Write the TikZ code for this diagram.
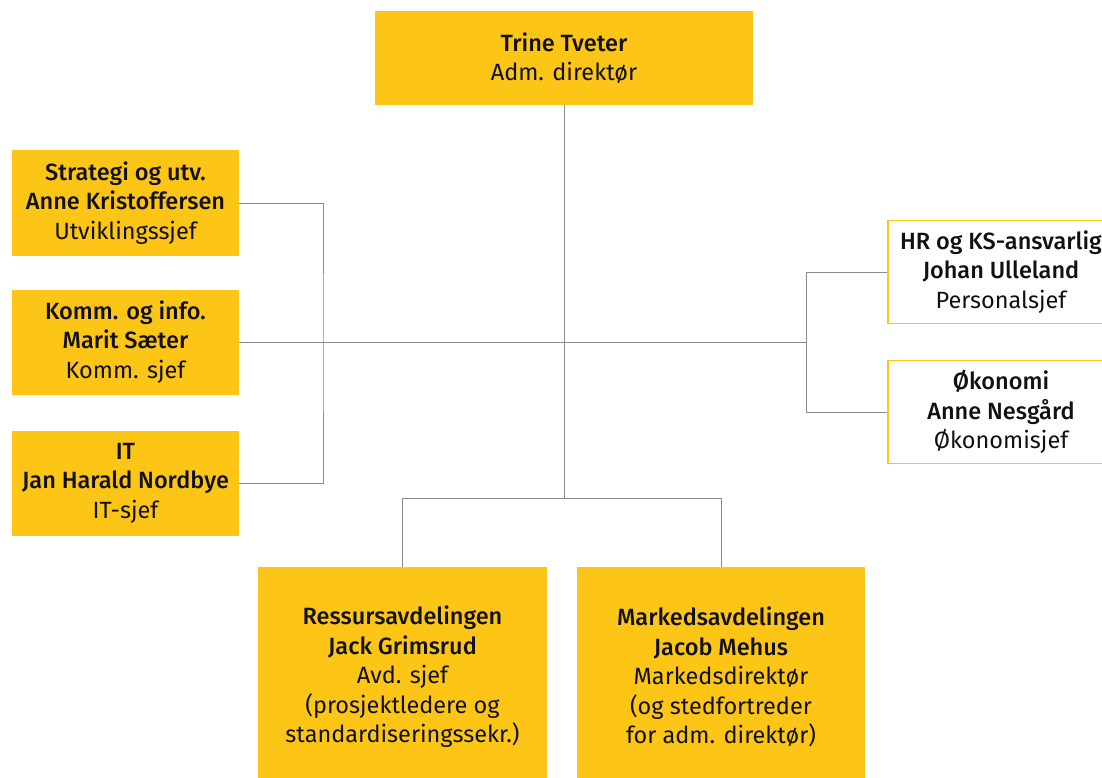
\documentclass[tikz,border=0pt]{standalone}
\usepackage{fontspec}
\setmainfont{Fira Sans}[BoldFont={Fira Sans Medium}]
\definecolor{boxyellow}{HTML}{FDC515}
\definecolor{linegray}{HTML}{8A8A8A}
\definecolor{txt}{HTML}{111111}
\tikzset{
  orgbox/.style={rectangle, fill=boxyellow, draw=none, inner sep=0pt, align=center, text=txt,
    font=\fontsize{23.5}{29.5}\selectfont},
  outbox/.style={rectangle, fill=white, draw=boxyellow, line width=1.2pt, inner sep=0pt, align=center, text=txt,
    font=\fontsize{23.5}{29.5}\selectfont},
  conn/.style={draw=linegray, line width=1pt}
}
\begin{document}
\begin{tikzpicture}[x=1pt,y=-1pt]
\useasboundingbox (0,0) rectangle (1102,778);
% top
\node[orgbox, minimum width=378pt, minimum height=94pt, font=\fontsize{23.5}{28.5}\selectfont] (top) at (564,58) {\textbf{Trine Tveter}\\Adm. direktør};
% left
\node[orgbox, minimum width=227pt, minimum height=105pt] (s1) at (125.5,203) {\textbf{Strategi og utv.}\\\textbf{Anne Kristoffersen}\\Utviklingssjef};
\node[orgbox, minimum width=227pt, minimum height=105pt] (s2) at (125.5,342) {\textbf{Komm. og info.}\\\textbf{Marit Sæter}\\Komm. sjef};
\node[orgbox, minimum width=227pt, minimum height=105pt] (s3) at (125.5,483) {\textbf{IT}\\\textbf{Jan Harald Nordbye}\\IT-sjef};
% right
\node[outbox, minimum width=226pt, minimum height=103pt] (hr) at (1001,272) {\textbf{HR og KS-ansvarlig}\\\textbf{Johan Ulleland}\\Personalsjef};
\node[outbox, minimum width=226pt, minimum height=103pt] (ok) at (1001,412) {\textbf{Økonomi}\\\textbf{Anne Nesgård}\\Økonomisjef};
% bottom
\node[orgbox, minimum width=289pt, minimum height=220pt] (bl) at (402.5,677) {\textbf{Ressursavdelingen}\\\textbf{Jack Grimsrud}\\Avd. sjef\\(prosjektledere og\\standardiseringssekr.)};
\node[orgbox, minimum width=288pt, minimum height=220pt] (br) at (721,677) {\textbf{Markedsavdelingen}\\\textbf{Jacob Mehus}\\Markedsdirektør\\(og stedfortreder\\for adm. direktør)};
% junctions
\coordinate (jb) at (564,498);
\coordinate (lx) at (323,342);
\coordinate (rx) at (806,342);
% connectors
\draw[conn] (top.south) -- (jb);
\draw[conn] (bl.north) -- (bl.north |- jb) -- (br.north |- jb) -- (br.north);
\draw[conn] (s1.east) -| (lx) |- (s3.east);
\draw[conn] (s2.east) -- (rx);
\draw[conn] (hr.west) -| (rx) |- (ok.west);
\end{tikzpicture}
\end{document}
